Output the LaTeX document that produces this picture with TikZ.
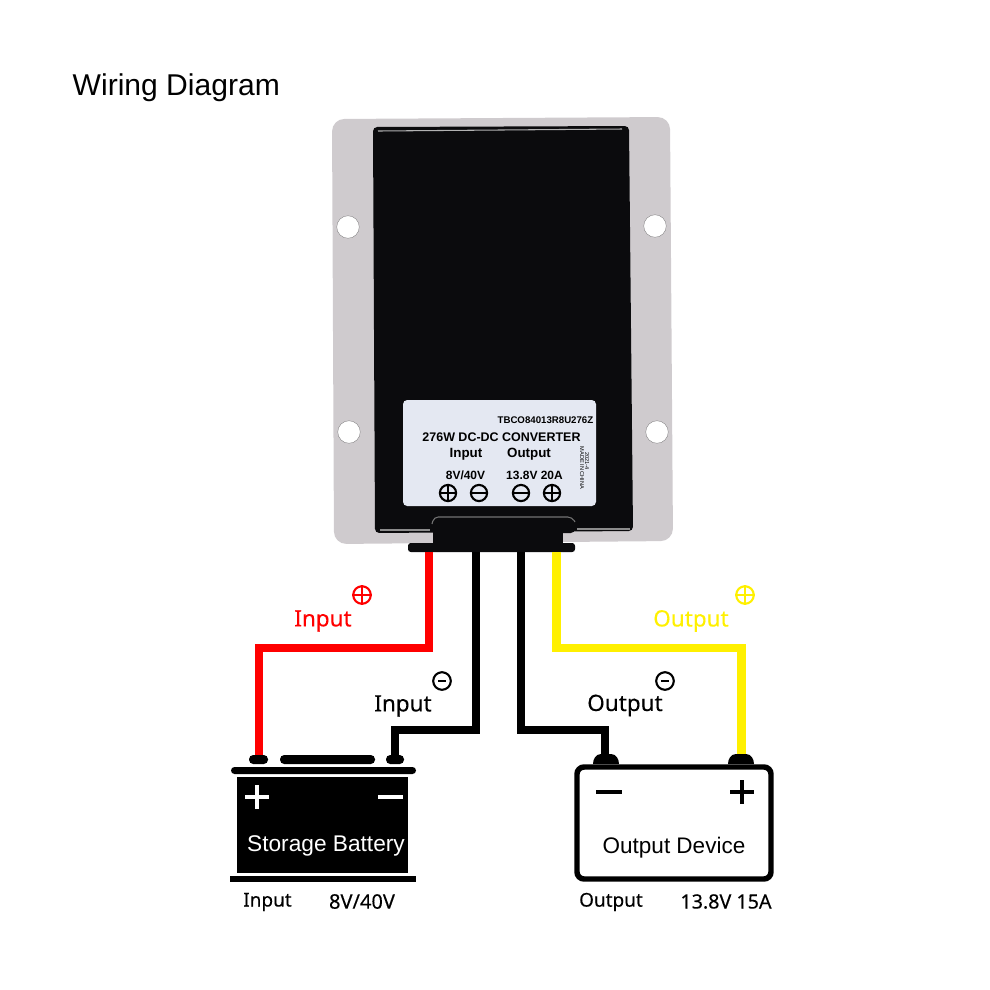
\documentclass[tikz,border=0pt]{standalone}
\usepackage{fontspec}
\setmainfont{Liberation Sans}
\newfontfamily\labelfont[FakeBold=0.25]{Noto Sans}
\usetikzlibrary{calc}
\definecolor{platecol}{HTML}{CFCBCE}
\definecolor{bodycol}{HTML}{0B0B0D}
\definecolor{stickercol}{HTML}{E4E8F2}
\definecolor{wirered}{HTML}{FF0000}
\definecolor{wireyellow}{HTML}{FFF000}
\tikzset{
	wire/.style={line width=2.55pt},
	hole/.style={circle,fill=white,draw=platecol!60!black,line width=0.1pt,minimum size=6.4pt,inner sep=0pt},
	sign/.style={circle,draw,line width=0.6pt,minimum size=5pt,inner sep=0pt},
	wirelabel/.style={font=\labelfont\fontsize{6.4}{8}\selectfont,inner sep=0pt},
	ratelabel/.style={font=\labelfont\fontsize{5.4}{6}\selectfont,inner sep=0pt},
	stickertext/.style={font=\bfseries\fontsize{3.4}{4}\selectfont,inner sep=0pt},
}
\begin{document}
\begin{tikzpicture}[x=0.01cm,y=-0.01cm]
	\useasboundingbox (0,0) rectangle (990,990);
	\node[font=\fontsize{8.55}{10}\selectfont,anchor=west,inner sep=0pt] (title) at (72,87.5) {Wiring Diagram};
	% converter
	\fill[platecol,rounded corners=3.5] (332,119) -- (670,117) -- (673,541) -- (334,544) -- cycle;
	\node[hole] (holeA) at (348,227) {};
	\node[hole] (holeB) at (655,226) {};
	\node[hole] (holeC) at (349,432) {};
	\node[hole] (holeD) at (657,432) {};
	\fill[bodycol,rounded corners=1.2] (373,127) -- (629,126) -- (633,531) -- (375,533) -- cycle;
	\draw[white!70!black,line width=0.3pt] (378,131) -- (622,129);
	\draw[white!55!black,line width=0.3pt] (380,530) -- (430,530);
	\draw[white!55!black,line width=0.3pt] (577,529) -- (630,529);
	\fill[bodycol] (433,520) rectangle (563,545);
	\fill[bodycol,rounded corners=1.2] (432,533) -- (432,519) -- (437,515) -- (570,515) -- (575,519) -- (575,533) -- cycle;
	\draw[white!45!black,line width=0.3pt,rounded corners=1.2] (432,524) -- (434,517) -- (572,517) -- (575,522);
	\fill[bodycol,rounded corners=0.8] (408,543) rectangle (575,552);
	% sticker
	\fill[stickercol,rounded corners=1.2] (403,400) rectangle (596,506);
	\node[stickertext,font=\bfseries\fontsize{2.75}{4}\selectfont,anchor=east] (code) at (594,420.5) {TBCO84013R8U276Z};
	\node[stickertext,font=\bfseries\fontsize{3.55}{5}\selectfont] (power) at (501.5,437) {276W DC-DC CONVERTER};
	\node[stickertext,font=\bfseries\fontsize{3.8}{5}\selectfont] (stickerin) at (466,454.5) {Input};
	\node[stickertext,font=\bfseries\fontsize{3.8}{5}\selectfont] (stickerout) at (529,454.5) {Output};
	\node[stickertext] (stickerv) at (465.5,475) {8V/40V};
	\node[stickertext] (stickerr) at (534.5,475) {13.8V 20A};
	\node[font=\fontsize{1.6}{2}\selectfont,rotate=-90,inner sep=0pt] (stickerd) at (587,461) {2021-4};
	\node[font=\fontsize{1.6}{2}\selectfont,rotate=-90,inner sep=0pt] (stickerm) at (582,468) {MADE IN CHINA};
	\foreach \sx/\sn in {448/a,552/d}{
		\node[sign,minimum size=4.6pt] (s\sn) at (\sx,493) {};
		\draw[line width=0.5pt] (s\sn.west) -- (s\sn.east) (s\sn.north) -- (s\sn.south);
	}
	\foreach \sx/\sn in {479/b,521/c}{
		\node[sign,minimum size=4.6pt] (s\sn) at (\sx,493) {};
		\draw[line width=0.5pt] (s\sn.west) -- (s\sn.east);
	}
	% wire ends
	\coordinate (pinred) at (429,552);
	\coordinate (pinin) at (476,552);
	\coordinate (pinout) at (521,552);
	\coordinate (pinyellow) at (556.5,552);
	\coordinate (batplus) at (259,760);
	\coordinate (batminus) at (395,760);
	\coordinate (devminus) at (605,760);
	\coordinate (devplus) at (741.5,760);
	\draw[wire,wirered] (pinred) -- ++(0,96) -| (batplus);
	\draw[wire,black] (pinin) -- ++(0,178) -| (batminus);
	\draw[wire,black] (pinout) -- ++(0,178) -| (devminus);
	\draw[wire,wireyellow] (pinyellow) -- ++(0,96) -| (devplus);
	% wire labels
	\node[wirelabel,text=wirered] (lblinp) at (323,621) {Input};
	\node[sign,draw=wirered] (signinp) at (362,595) {};
	\draw[wirered,line width=0.6pt] (signinp.west) -- (signinp.east) (signinp.north) -- (signinp.south);
	\node[wirelabel] (lblinm) at (403,706) {Input};
	\node[sign] (signinm) at (442,681) {};
	\draw[line width=0.7pt] ($(signinm.center)+(-4,0)$) -- ($(signinm.center)+(4,0)$);
	\node[wirelabel,text=wireyellow] (lbloutp) at (691,621) {Output};
	\node[sign,draw=wireyellow] (signoutp) at (745,595) {};
	\draw[wireyellow,line width=0.6pt] (signoutp.west) -- (signoutp.east) (signoutp.north) -- (signoutp.south);
	\node[wirelabel] (lbloutm) at (625,705.5) {Output};
	\node[sign] (signoutm) at (665,681) {};
	\draw[line width=0.7pt] ($(signoutm.center)+(-4,0)$) -- ($(signoutm.center)+(4,0)$);
	% battery
	\fill[rounded corners=1.2] (249,755) rectangle (268,764);
	\fill[rounded corners=1.2] (280,755) rectangle (375,764);
	\fill[rounded corners=1.2] (386,755) rectangle (404,764);
	\fill[rounded corners=1] (231,767) rectangle (416,774);
	\fill (237,777) rectangle (408,873);
	\fill (230,876) rectangle (416,882);
	\draw[white,line width=1.3pt] (245,797) -- (269,797) (257,785) -- (257,809);
	\draw[white,line width=1.3pt] (378,797) -- (403,797);
	\node[text=white,font=\fontsize{6.45}{8}\selectfont,inner sep=0pt] (battery) at (326,845.5) {Storage Battery};
	\node[ratelabel] (batin) at (267.5,902) {Input};
	\node[ratelabel,font=\labelfont\fontsize{5.7}{6}\selectfont] (batv) at (362,901.5) {8V/40V};
	% output device
	\fill (593,764) to[out=90,in=180] (601,754) -- (611,754) to[out=0,in=90] (619,764) -- cycle;
	\fill (728,764) to[out=90,in=180] (736,754) -- (746,754) to[out=0,in=90] (754,764) -- cycle;
	\draw[line width=1.55pt,rounded corners=2] (577,767) rectangle (771,879);
	\draw[line width=1.3pt] (596,792) -- (622,792);
	\draw[line width=1.3pt] (730,792) -- (754,792) (742,780) -- (742,804);
	\node[font=\fontsize{6.4}{8}\selectfont,inner sep=0pt] (device) at (674,847.5) {Output Device};
	\node[ratelabel] (devout) at (611,902) {Output};
	\node[ratelabel,font=\labelfont\fontsize{5.6}{6}\selectfont] (devr) at (726,901.5) {13.8V 15A};
\end{tikzpicture}
\end{document}
